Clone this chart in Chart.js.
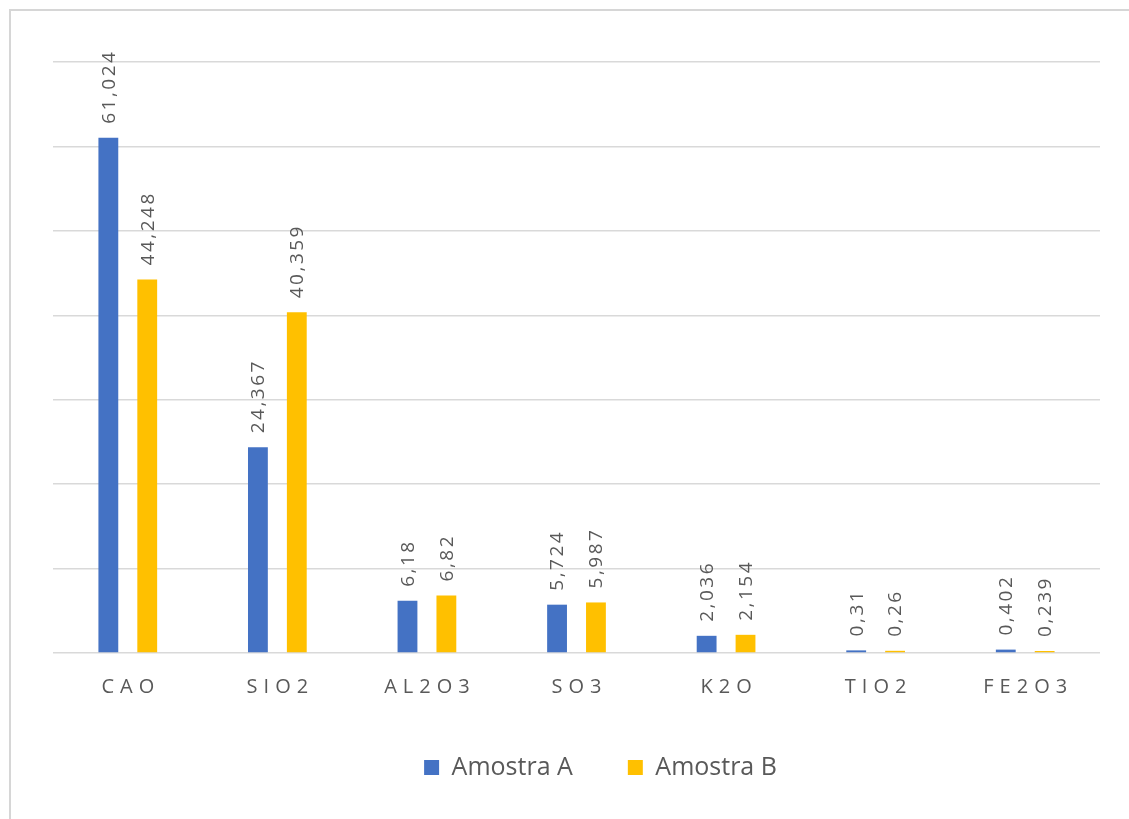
<!DOCTYPE html>
<html>
<head>
<meta charset="utf-8">
<script src="https://cdn.jsdelivr.net/npm/chart.js@4/dist/chart.umd.min.js"></script>
<style>
  html, body { margin: 0; padding: 0; background: #fff; overflow: hidden; }
  #wrap { position: relative; width: 1129px; height: 819px; }
  #frame {
    position: absolute; left: 9px; top: 9px; width: 1200px; height: 900px;
    border-left: 2px solid #d6d6d6; border-top: 2px solid #d6d6d6;
  }
  canvas { position: absolute; left: 0; top: 0; }
</style>
</head>
<body>
<div id="wrap">
  <div id="frame"></div>
  <canvas id="oxideChart" width="1129" height="819"></canvas>
</div>
<script>
// oxide composition of the two samples
const oxides = ['CAO', 'SIO2', 'AL2O3', 'SO3', 'K2O', 'TIO2', 'FE2O3'];
const amostraA = [61.024, 24.367, 6.18, 5.724, 2.036, 0.31, 0.402];
const amostraB = [44.248, 40.359, 6.82, 5.987, 2.154, 0.26, 0.239];
const seriesNames = ['Amostra A', 'Amostra B'];
const yMin = 0;
const yMax = 70;
const yStep = 10;

const textGray = '#595959';
const gridGray = '#d9d9d9';

// comma decimal, as written in the labels
const fmt = v => String(v).replace('.', ',');

// spaced-out category labels on the x axis only
const spacedTicks = {
    id: 'spacedTicks',
    afterLayout(chart) {
        const scale = chart.scales.x;
        if (scale._spaced) return;
        const orig = scale.drawLabels;
        scale.drawLabels = function (area) {
            chart.ctx.save();
            chart.ctx.letterSpacing = '6px';
            chart.ctx.translate(3, 0); // trailing spacing would push text left
            orig.call(this, area);
            chart.ctx.restore();
        };
        scale._spaced = true;
    }
};

// nudge the legend block a bit to the right of the plot centre
const legendShift = {
    id: 'legendShift',
    afterLayout(chart) {
        chart.legend.left += 24;
        chart.legend.right += 24;
    }
};

// vertical value labels above every bar
const valueLabels = {
    id: 'valueLabels',
    afterDatasetsDraw(chart) {
        const ctx = chart.ctx;
        chart.data.datasets.forEach((ds, i) => {
            const meta = chart.getDatasetMeta(i);
            meta.data.forEach((bar, j) => {
                ctx.save();
                ctx.letterSpacing = '2.5px';
                ctx.translate(bar.x, bar.y - 14);
                ctx.rotate(-Math.PI / 2);
                ctx.font = '19px "Open Sans"';
                ctx.fillStyle = textGray;
                ctx.textAlign = 'left';
                ctx.textBaseline = 'middle';
                ctx.fillText(fmt(ds.data[j]), 0, 1);
                ctx.restore();
            });
        });
    }
};

const ctx = document.getElementById('oxideChart').getContext('2d');
new Chart(ctx, {
    type: 'bar',
    data: {
        labels: oxides,
        datasets: [
            { label: seriesNames[0], data: amostraA, backgroundColor: '#4472c4' },
            { label: seriesNames[1], data: amostraB, backgroundColor: '#ffc000' }
        ]
    },
    options: {
        responsive: false,
        animation: false,
        datasets: {
            bar: { categoryPercentage: 0.52, barPercentage: 0.51 }
        },
        layout: {
            padding: { left: 53, right: 29, top: 62, bottom: 29 }
        },
        scales: {
            x: {
                grid: { display: false, drawTicks: false },
                border: { display: false },
                ticks: {
                    color: textGray,
                    font: { family: 'Open Sans', size: 20 },
                    padding: 22
                },
                afterFit(scale) { scale.height -= 21; }
            },
            y: {
                min: yMin,
                max: yMax,
                ticks: { display: false, stepSize: yStep },
                grid: { color: gridGray, lineWidth: 1.5, drawTicks: false },
                border: { display: false }
            }
        },
        plugins: {
            tooltip: { enabled: false },
            legend: {
                position: 'bottom',
                labels: {
                    color: textGray,
                    font: { family: 'Open Sans', size: 25 },
                    boxWidth: 15,
                    boxHeight: 15,
                    padding: 55
                }
            }
        }
    },
    plugins: [spacedTicks, legendShift, valueLabels]
});
</script>
</body>
</html>
